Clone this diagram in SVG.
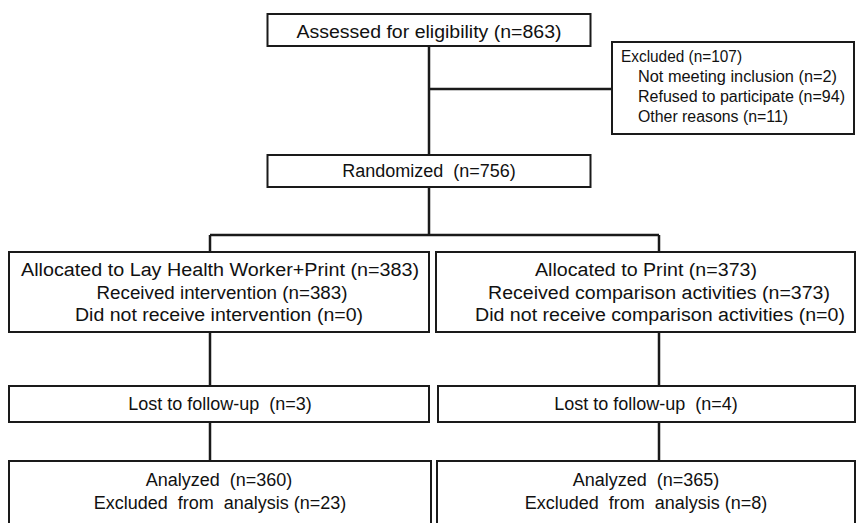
<svg xmlns="http://www.w3.org/2000/svg" width="856" height="523" viewBox="0 0 856 523">
<style>
.box{fill:#fff;stroke:#1a1a1a;stroke-width:2}
.t{font-family:"Liberation Sans",Arial,sans-serif;font-size:18px;fill:#111;text-anchor:middle}
.e{font-family:"Liberation Sans",Arial,sans-serif;font-size:16px;fill:#111}
.c{stroke:#1a1a1a;stroke-width:2.5;fill:none}
</style>
<rect width="856" height="523" fill="#fff"/>
<g id="connectors">
<path class="c" d="M429 46V155M429 89H612M429 187V235M210 235H659M210 235V252M659 235V252M210 332V386M659 332V386M210 422V461M659 422V461"/>
</g>
<g id="assessed">
<rect class="box" x="267.5" y="14" width="323" height="32"/>
<text class="t" x="429" y="38" textLength="265" lengthAdjust="spacingAndGlyphs">Assessed for eligibility (n=863)</text>
</g>
<g id="excluded">
<rect class="box" x="612" y="42" width="242" height="92"/>
<text class="e" x="621" y="62" textLength="121" lengthAdjust="spacingAndGlyphs">Excluded (n=107)</text>
<text class="e" x="638" y="82" textLength="199" lengthAdjust="spacingAndGlyphs">Not meeting inclusion (n=2)</text>
<text class="e" x="638" y="102" textLength="207" lengthAdjust="spacingAndGlyphs">Refused to participate (n=94)</text>
<text class="e" x="638" y="122" textLength="150" lengthAdjust="spacingAndGlyphs">Other reasons (n=11)</text>
</g>
<g id="randomized">
<rect class="box" x="267.5" y="155" width="323" height="32"/>
<text class="t" x="429" y="177" xml:space="preserve">Randomized  (n=756)</text>
</g>
<g id="alloc-lhw">
<rect class="box" x="9" y="252" width="420" height="80"/>
<text class="t" x="220" y="276" textLength="398" lengthAdjust="spacingAndGlyphs">Allocated to Lay Health Worker+Print (n=383)</text>
<text class="t" x="222" y="299" textLength="251" lengthAdjust="spacingAndGlyphs">Received intervention (n=383)</text>
<text class="t" x="219" y="321" textLength="288" lengthAdjust="spacingAndGlyphs">Did not receive intervention (n=0)</text>
</g>
<g id="alloc-print">
<rect class="box" x="436" y="252" width="419" height="80"/>
<text class="t" x="646" y="276" textLength="222" lengthAdjust="spacingAndGlyphs">Allocated to Print (n=373)</text>
<text class="t" x="659" y="299" textLength="342" lengthAdjust="spacingAndGlyphs">Received comparison activities (n=373)</text>
<text class="t" x="660" y="321" textLength="370" lengthAdjust="spacingAndGlyphs">Did not receive comparison activities (n=0)</text>
</g>
<g id="lost-lhw">
<rect class="box" x="9" y="386" width="420" height="36"/>
<text class="t" x="220" y="410" xml:space="preserve">Lost to follow-up  (n=3)</text>
</g>
<g id="lost-print">
<rect class="box" x="438" y="386" width="417" height="36"/>
<text class="t" x="646" y="410" xml:space="preserve">Lost to follow-up  (n=4)</text>
</g>
<g id="analyzed-lhw">
<rect class="box" x="9" y="461" width="422" height="70"/>
<text class="t" x="219" y="486" xml:space="preserve">Analyzed  (n=360)</text>
<text class="t" x="220" y="509" xml:space="preserve">Excluded  from  analysis (n=23)</text>
</g>
<g id="analyzed-print">
<rect class="box" x="437" y="461" width="418" height="70"/>
<text class="t" x="646" y="486" xml:space="preserve">Analyzed  (n=365)</text>
<text class="t" x="646" y="509" xml:space="preserve">Excluded  from  analysis (n=8)</text>
</g>
</svg>
